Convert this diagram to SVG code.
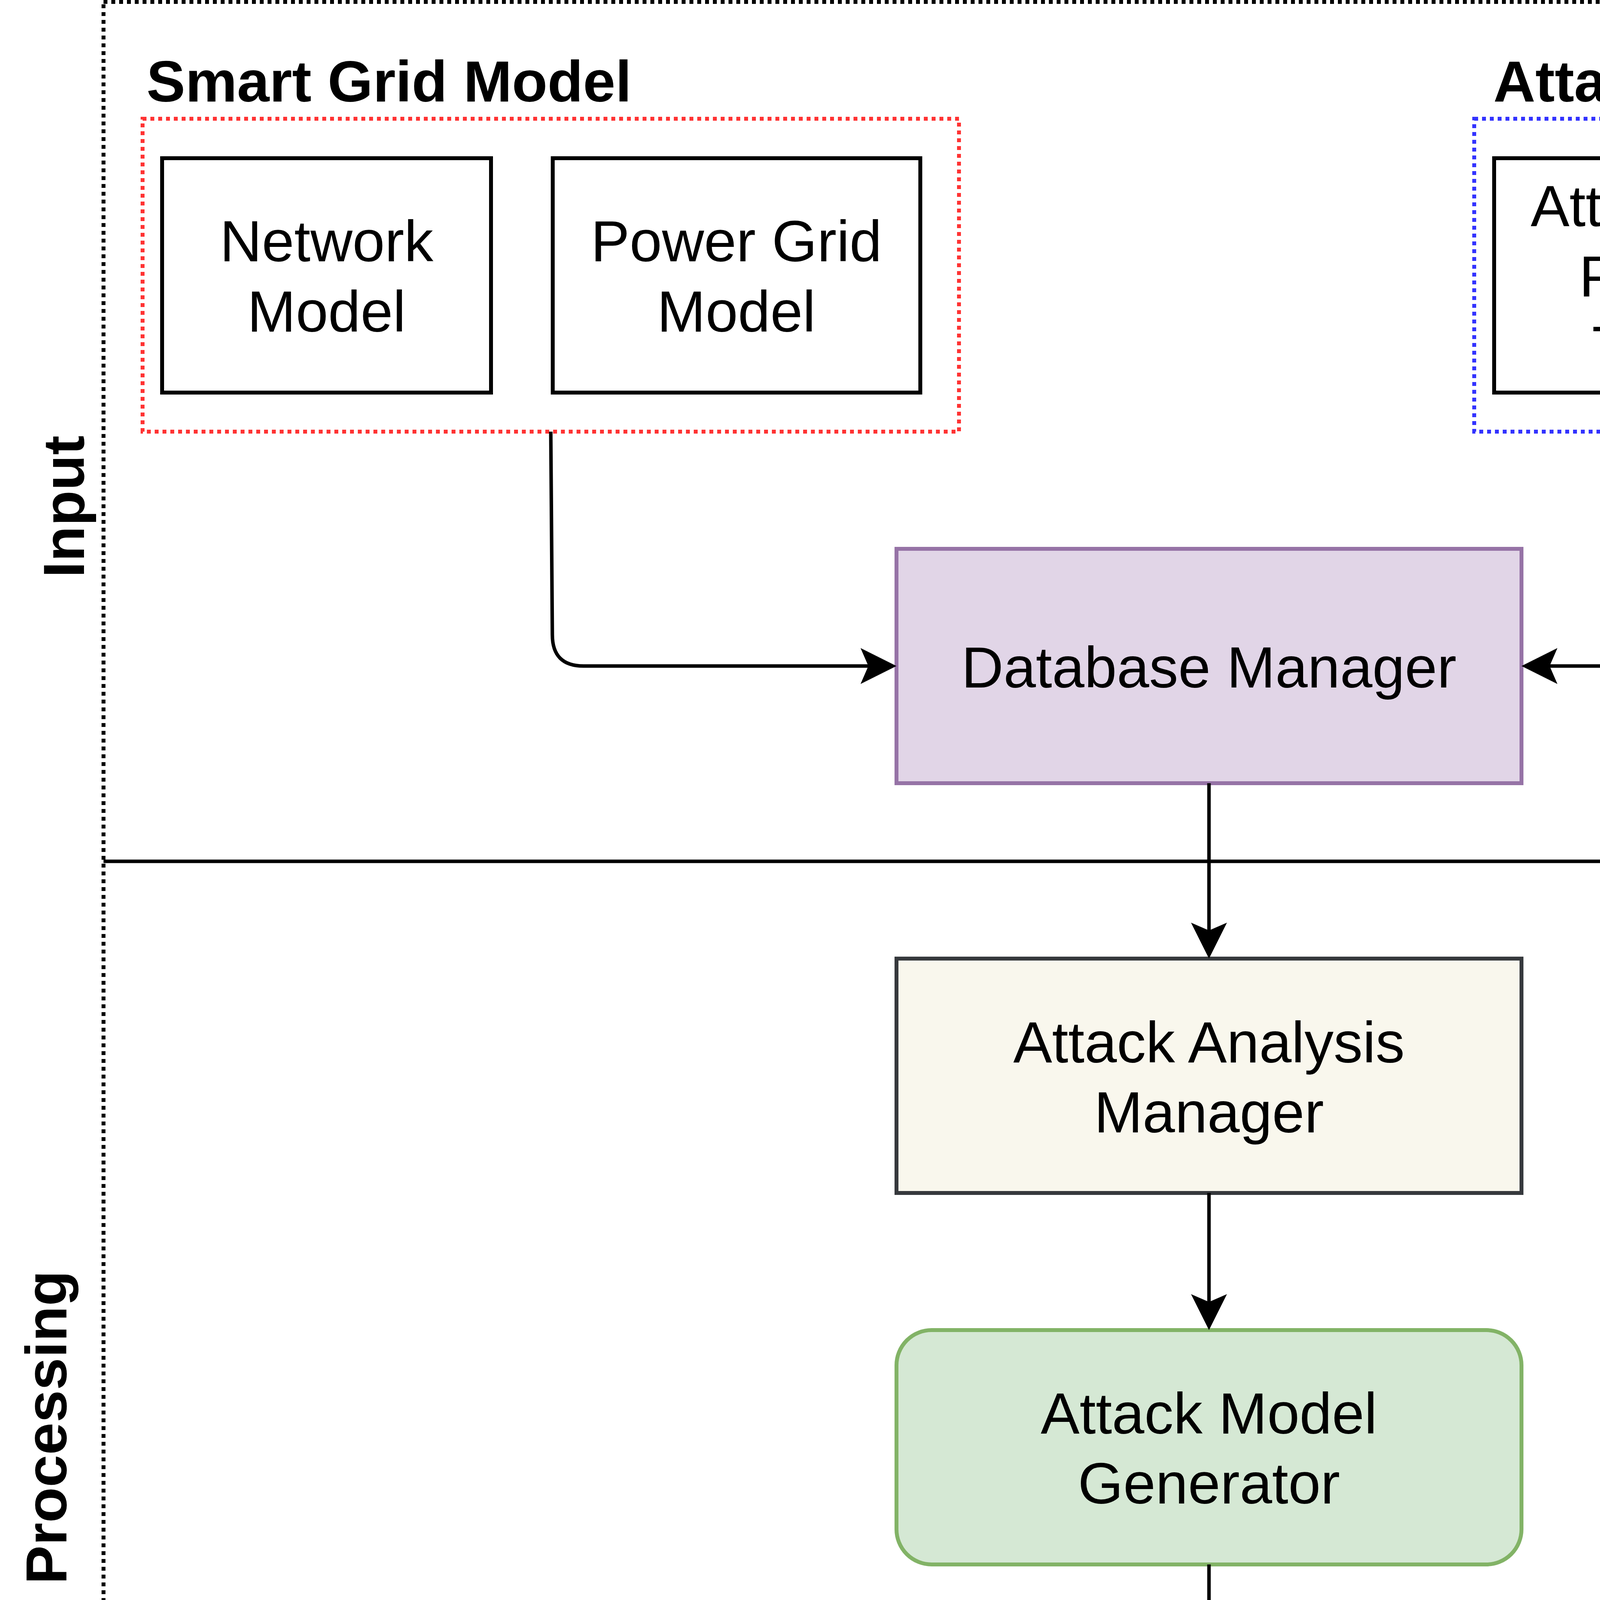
<svg xmlns="http://www.w3.org/2000/svg" width="6070" height="6070" viewBox="0 0 6070 6070">
<style>
text{font-family:"Liberation Sans",Arial,Helvetica,sans-serif;font-size:149px;fill:#000}
.c{text-anchor:middle}
.b{font-weight:bold}
.box{fill:#fff;stroke:#000;stroke-width:10}
.conn{fill:none;stroke:#000;stroke-width:9}
.lane{fill:none;stroke:#000;stroke-width:9}
</style>
<defs>
<marker id="arr" viewBox="0 0 92 92" refX="20" refY="46" markerWidth="92" markerHeight="92" markerUnits="userSpaceOnUse" orient="auto">
<path d="M0,0 L92,46 L0,92 L20,46 Z" fill="#000"/>
</marker>
</defs>
<rect width="6070" height="6070" fill="#fff"/>
<g id="lanes">
<rect x="265" y="5" width="5800" height="5898" fill="none" stroke="#000" stroke-width="10" stroke-dasharray="10 10"/>
<line class="lane" x1="265" y1="2205" x2="6065" y2="2205"/>
<line class="lane" x1="265" y1="5004" x2="6065" y2="5004"/>
<text class="c b" transform="translate(215,1297) rotate(-90)">Input</text>
<text class="c b" transform="translate(170,3654) rotate(-90)">Processing</text>
<text class="c b" transform="translate(215,5447) rotate(-90)">Output</text>
</g>
<g id="smart-grid-model">
<rect x="365" y="304" width="2090" height="801" fill="none" stroke="#FF3333" stroke-width="10" stroke-dasharray="10 10"/>
<text class="b" x="375" y="260">Smart Grid Model</text>
</g>
<g id="attack-scenarios">
<rect x="3774" y="304" width="2111" height="801" fill="none" stroke="#3333FF" stroke-width="10" stroke-dasharray="10 10"/>
<text class="b" x="3823" y="260">Attack Scenarios</text>
</g>
<g id="network-model">
<rect class="box" x="415" y="405" width="842" height="600"/>
<text class="c" x="836" y="669">Network</text>
<text class="c" x="836" y="849">Model</text>
</g>
<g id="power-grid-model">
<rect class="box" x="1415" y="405" width="941" height="600"/>
<text class="c" x="1885" y="669">Power Grid</text>
<text class="c" x="1885" y="849">Model</text>
</g>
<g id="attack-entry">
<rect class="box" x="3825" y="405" width="991" height="600"/>
<text class="c" x="4320" y="579">Attack Entry</text>
<text class="c" x="4320" y="759">Points &amp;</text>
<text class="c" x="4320" y="939">Targets</text>
</g>
<g id="device-vulnerabilities">
<rect class="box" x="4874" y="410" width="962" height="600"/>
<text class="c" x="5355" y="679">Device</text>
<text class="c" x="5355" y="858">Vulnerabilities</text>
</g>
<g id="database-manager">
<rect x="2295" y="1405" width="1600" height="600" fill="#e1d5e7" stroke="#9673a6" stroke-width="10"/>
<text class="c" x="3095" y="1760">Database Manager</text>
</g>
<g id="attack-analysis-manager">
<rect x="2295" y="2454" width="1600" height="600" fill="#f9f7ed" stroke="#36393d" stroke-width="10"/>
<text class="c" x="3095" y="2720">Attack Analysis</text>
<text class="c" x="3095" y="2899">Manager</text>
</g>
<g id="attack-model-generator">
<rect x="2295" y="3405" width="1600" height="600" rx="90" ry="90" fill="#d5e8d4" stroke="#82b366" stroke-width="10"/>
<text class="c" x="3095" y="3670">Attack Model</text>
<text class="c" x="3095" y="3849">Generator</text>
</g>
<g id="attack-model-evaluator">
<rect x="2295" y="4304" width="1600" height="600" rx="90" ry="90" fill="#d5e8d4" stroke="#82b366" stroke-width="10"/>
<text class="c" x="3095" y="4569">Attack</text>
<text class="c" x="3115" y="4750">Model Evaluator</text>
</g>
<g id="attack-graph">
<rect class="box" x="515" y="5202" width="1599" height="603"/>
<text class="c" x="1315" y="5559">Attack Graph</text>
</g>
<g id="security-metrics">
<rect class="box" x="4317" y="5202" width="1599" height="603"/>
<text class="c" x="5116" y="5559">Security Metrics</text>
</g>
<g id="connectors">
<path class="conn" d="M1410,1105 L1414,1625 Q1414,1705 1494,1705 L2223,1705" marker-end="url(#arr)"/>
<path class="conn" d="M4829,1105 L4832,1625 Q4832,1705 4752,1705 L3967,1705" marker-end="url(#arr)"/>
<path class="conn" d="M3095,2005 L3095,2382" marker-end="url(#arr)"/>
<path class="conn" d="M3095,3054 L3095,3333" marker-end="url(#arr)"/>
<path class="conn" d="M3095,4005 L3095,4232" marker-end="url(#arr)"/>
<path class="conn" d="M2295,4604 L1396,4604 Q1316,4604 1316,4684 L1316,5128" marker-end="url(#arr)"/>
<path class="conn" d="M3895,4604 L5034,4604 Q5114,4604 5114,4684 L5114,5128" marker-end="url(#arr)"/>
</g>
</svg>
